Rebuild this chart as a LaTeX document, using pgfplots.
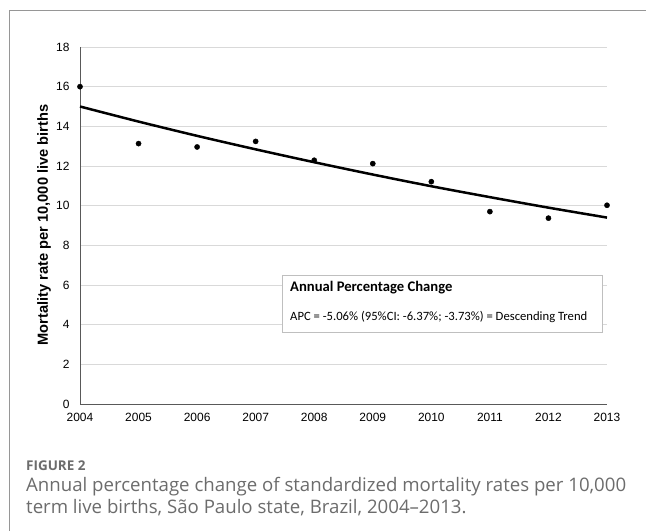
\documentclass[border=0pt]{standalone}
\usepackage{fontspec}
\setmainfont{Liberation Sans}
\newfontfamily\calib{Carlito}
\newfontfamily\capfont{Open Sans}
\usepackage{pgfplots}
\pgfplotsset{compat=1.18}
\definecolor{gridc}{RGB}{217,217,217}
\definecolor{capgray}{RGB}{108,108,108}
\definecolor{framegray}{RGB}{150,150,150}
\begin{document}
\begin{tikzpicture}[x=1bp,y=1bp]
\useasboundingbox (0,0) rectangle (646,-531);
\fill[white] (0,0) rectangle (646,-531);
\draw[framegray, line width=1bp] (9,-531) -- (9,-11) -- (646,-11);
\begin{axis}[
  at={(80bp,-404bp)}, anchor=south west,
  scale only axis, width=527bp, height=357bp,
  xmin=2004, xmax=2013, ymin=0, ymax=18,
  xtick={2004,2005,...,2013}, ytick={0,2,...,18},
  axis x line*=bottom, axis y line*=left,
  major tick length=0pt,
  ymajorgrids, grid style={gridc, line width=0.8bp},
  axis line style={draw=black!65, line width=0.9bp},
  tick label style={font=\fontsize{12}{14}\selectfont},
  /pgf/number format/assume math mode=true,
  xticklabel style={/pgf/number format/1000 sep={}, yshift=-6bp},
  yticklabel style={xshift=-7bp},
  clip=false,
]
\addplot[only marks, mark=*, mark size=2.6bp, black] coordinates {
  (2004,16.00) (2005,13.13) (2006,12.96) (2007,13.24) (2008,12.29)
  (2009,12.12) (2010,11.21) (2011,9.70) (2012,9.37) (2013,10.02)
};
\addplot[black, line width=2.5bp, smooth, no marks] coordinates {
  (2004,15.00) (2005,14.24) (2006,13.52) (2007,12.84) (2008,12.19)
  (2009,11.57) (2010,10.98) (2011,10.43) (2012,9.90) (2013,9.40)
};
\end{axis}
\node[rotate=90, font=\bfseries\fontsize{14.7}{17}\selectfont] at (44,-225) {Mortality rate per 10,000 live births};
\draw[draw=black!25, fill=white, line width=1bp] (282,-275) rectangle (602,-332);
\node[anchor=west, inner sep=0pt, font=\calib\bfseries\fontsize{14.7}{17}\selectfont] at (290,-288) {Annual Percentage Change};
\node[anchor=west, inner sep=0pt, font=\calib\fontsize{12.7}{15}\selectfont] at (290,-317) {APC = -5.06\% (95\%CI: -6.37\%; -3.73\%) = Descending Trend};
\node[anchor=base west, inner sep=0pt, text=capgray, font=\capfont\bfseries\fontsize{13.5}{16}\selectfont] at (26,-470.5) {FIGURE 2};
\node[anchor=base west, inner sep=0pt, text=capgray, font=\capfont\fontsize{18.7}{22}\selectfont] at (26,-491) {Annual percentage change of standardized mortality rates per 10,000};
\node[anchor=base west, inner sep=0pt, text=capgray, font=\capfont\fontsize{18.7}{22}\selectfont] at (26,-513) {term live births, São Paulo state, Brazil, 2004–2013.};
\end{tikzpicture}
\end{document}
